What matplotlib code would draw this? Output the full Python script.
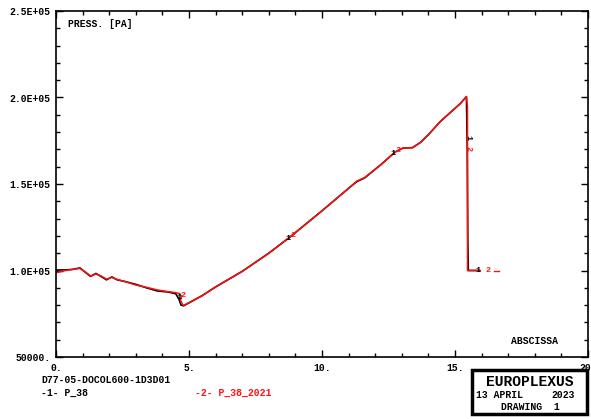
import matplotlib
matplotlib.use("Agg")
import matplotlib.pyplot as plt
from matplotlib.patches import Rectangle
import numpy as np

# curve 1 : P_38 (black)
x1 = [0.0, 0.05, 0.3, 0.6, 0.9, 1.1, 1.3, 1.5, 1.7, 1.9, 2.1, 2.3, 2.6, 3.0,
      3.4, 3.8, 4.2, 4.5, 4.62, 4.7, 4.8, 5.5, 6.0, 7.0, 8.0, 8.8, 10.0, 11.0,
      11.3, 11.6, 12.2, 12.75, 13.05, 13.4, 13.7, 14.0, 14.44, 14.8, 15.2, 15.43,
      15.46, 15.48, 15.5, 15.9]
y1 = [100.0, 100.3, 100.3, 100.6, 101.5, 99.0, 96.6, 98.3, 96.5, 94.6, 96.3, 94.6,
      93.6, 92.0, 90.0, 88.2, 87.6, 86.6, 83.5, 80.0, 79.6, 85.5, 90.5, 99.5, 110.0,
      119.4, 134.5, 147.5, 151.3, 153.5, 161.0, 168.5, 170.8, 171.0, 174.0, 178.5,
      186.0, 191.0, 196.5, 200.5, 170.0, 120.0, 100.0, 100.0]

# curve 2 : P_38_2021 (red)
x2 = [0.0, 0.3, 0.6, 0.9, 1.1, 1.3, 1.5, 1.7, 1.9, 2.1, 2.3, 2.6, 3.0, 3.4,
      3.8, 4.2, 4.5, 4.65, 4.72, 4.68, 4.75, 4.8, 5.5, 6.0, 7.0, 8.0, 8.8, 10.0,
      11.0, 11.3, 11.6, 12.2, 12.75, 13.05, 13.4, 13.7, 14.0, 14.44, 14.8, 15.2,
      15.43, 15.47, 15.47, 15.95]
y2 = [98.7, 99.8, 100.6, 101.2, 99.2, 96.8, 98.0, 96.8, 95.0, 96.0, 94.8, 93.6,
      91.6, 90.3, 88.8, 87.8, 87.2, 86.6, 85.0, 83.0, 80.5, 79.8, 85.5, 90.5, 99.5,
      110.0, 119.4, 134.5, 147.5, 151.6, 153.7, 161.0, 168.5, 170.8, 171.0, 174.0,
      178.5, 186.0, 191.0, 196.5, 200.5, 195.0, 100.0, 100.0]

xticks = [0, 5, 10, 15, 20]
xticklabels = ["0.", "5.", "10.", "15.", "20."]
yticks = [50000, 100000, 150000, 200000, 250000]
yticklabels = ["50000.", "1.0E+05", "1.5E+05", "2.0E+05", "2.5E+05"]

RED = "#ff1010"
FONT = "Liberation Mono"

fig = plt.figure(figsize=(5.91, 4.19), dpi=100)
ax = fig.add_axes([56 / 591, 1 - 357 / 419, 532 / 591, 346 / 419])

ax.plot(x1, np.array(y1) * 1000, color="black", lw=1.2)
ax.plot(x2, np.array(y2) * 1000, color=RED, lw=1.1)

ax.set_xlim(0, 20)
ax.set_ylim(50000, 250000)
ax.set_xticks(xticks)
ax.set_xticklabels(xticklabels)
ax.set_yticks(yticks)
ax.set_yticklabels(yticklabels)
ax.set_xticks(np.arange(0, 21, 1), minor=True)
ax.set_yticks(np.arange(50000, 250001, 10000), minor=True)
ax.tick_params(which="both", direction="in", top=True, right=True, width=1)
ax.tick_params(which="major", length=5, pad=4)
ax.tick_params(which="minor", length=3)
for lab in ax.get_xticklabels() + ax.get_yticklabels():
    lab.set_fontfamily(FONT)
    lab.set_fontweight("bold")
    lab.set_fontsize(7)
for sp in ax.spines.values():
    sp.set_linewidth(1.2)

# curve labels
lab_kw = dict(fontfamily=FONT, fontweight="bold", fontsize=6, ha="center", va="center")
ax.text(4.62, 84500, "1", color="black", **lab_kw)
ax.text(4.78, 85500, "2", color=RED, **lab_kw)
ax.text(8.72, 118500, "1", color="black", **lab_kw)
ax.text(8.9, 120000, "2", color=RED, **lab_kw)
ax.text(12.65, 167500, "1", color="black", **lab_kw)
ax.text(12.85, 169500, "2", color=RED, **lab_kw)
ax.text(15.47, 177000, "1", color="black", rotation=-90, **lab_kw)
ax.text(15.47, 170500, "2", color=RED, rotation=-90, **lab_kw)
ax.text(15.85, 99800, "1", color="black", **lab_kw)
ax.text(16.25, 100000, "2", color=RED, **lab_kw)
ax.plot([16.45, 16.65], [100000, 100000], color=RED, lw=1)

txt_kw = dict(fontfamily=FONT, fontweight="bold", fontsize=7)
ax.text(0.45, 242500, "PRESS. [PA]", ha="left", va="center", **txt_kw)
ax.text(17.1, 59000, "ABSCISSA", ha="left", va="center", **txt_kw)

fig.text(41 / 591, 1 - 380 / 419, "D77-05-DOCOL600-1D3D01", ha="left", va="center", **txt_kw)
fig.text(41 / 591, 1 - 393 / 419, "-1- P_38", ha="left", va="center", color="black", **txt_kw)
fig.text(195 / 591, 1 - 393 / 419, "-2- P_38_2021", ha="left", va="center", color=RED, **txt_kw)

# title block
fig.patches.append(Rectangle((472 / 591, 1 - 414 / 419), 115 / 591, 44 / 419,
                             transform=fig.transFigure, fill=False, lw=2.5,
                             edgecolor="black"))
fig.text(530 / 591, 1 - 382 / 419, "EUROPLEXUS", ha="center", va="center",
         fontfamily=FONT, fontweight="bold", fontsize=10.5)
fig.text(476 / 591, 1 - 395 / 419, "13 APRIL", ha="left", va="center", **txt_kw)
fig.text(575 / 591, 1 - 395 / 419, "2023", ha="right", va="center", **txt_kw)
fig.text(530 / 591, 1 - 407 / 419, "DRAWING  1", ha="center", va="center", **txt_kw)

fig.savefig("out.png", dpi=100)
